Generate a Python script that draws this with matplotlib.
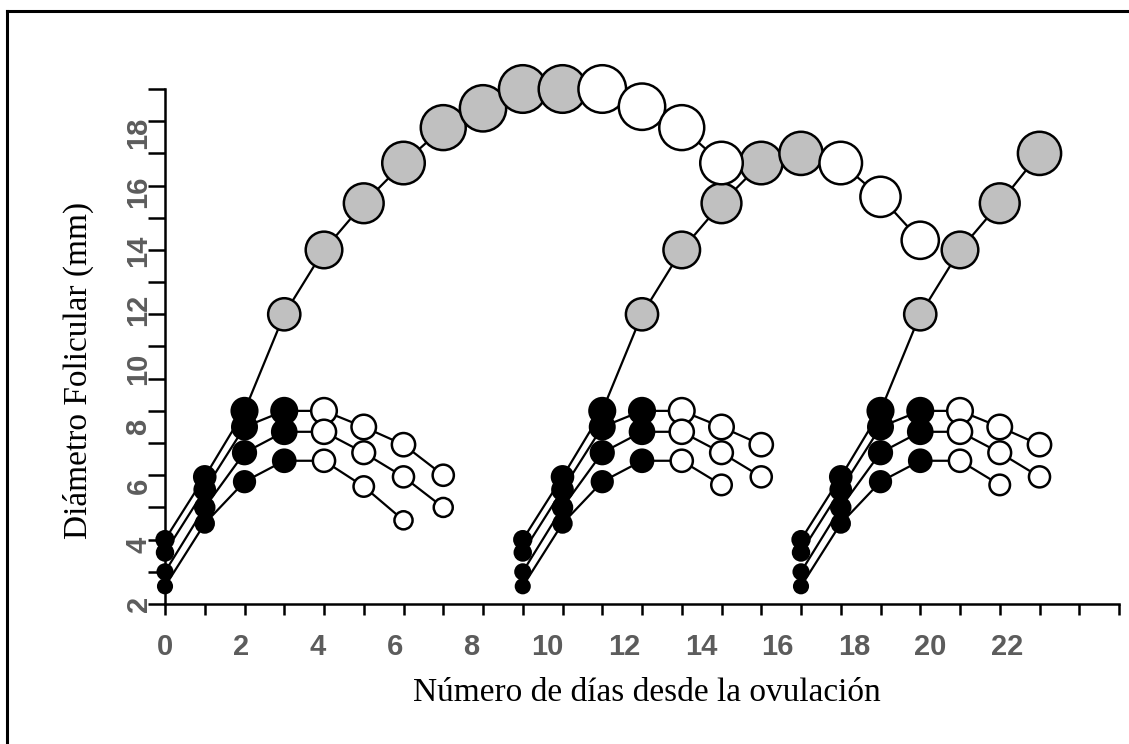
import numpy as np
import matplotlib.pyplot as plt
from matplotlib.lines import Line2D

# Follicle diameters (mm), one list per follicle.
# Each wave: one dominant follicle + three subordinates.
WAVE_STARTS = [0, 9, 16]

DOM_1 = [4.0, 5.95, 8.0, 11.0, 13.0, 14.45, 15.7, 16.8, 17.4, 18.0, 18.0, 18.0, 17.45, 16.8, 15.7]
SUB_1A = [3.6, 5.55, 7.5, 8.0, 8.0, 7.5, 6.95, 6.0]
SUB_1B = [3.0, 5.0, 6.7, 7.35, 7.35, 6.7, 5.95, 5.0]
SUB_1C = [2.55, 4.5, 5.8, 6.45, 6.45, 5.65, 4.6]

DOM_2 = [4.0, 5.95, 8.0, 11.0, 13.0, 14.45, 15.7, 16.0, 15.7, 14.65, 13.3]
SUB_2A = [3.6, 5.55, 7.5, 8.0, 8.0, 7.5, 6.95]
SUB_2B = [3.0, 5.0, 6.7, 7.35, 7.35, 6.7, 5.95]
SUB_2C = [2.55, 4.5, 5.8, 6.45, 6.45, 5.7]

DOM_3 = [4.0, 5.95, 8.0, 11.0, 13.0, 14.45, 16.0]
SUB_3A = [3.6, 5.55, 7.5, 8.0, 8.0, 7.5, 6.95]
SUB_3B = [3.0, 5.0, 6.7, 7.35, 7.35, 6.7, 5.95]
SUB_3C = [2.55, 4.5, 5.8, 6.45, 6.45, 5.7]

# how many points are black (growing) and grey (dominant) before they turn white
DOM_PHASES = [(3, 8), (3, 5), (3, 4)]
SUB_PHASES = (4, 0)

X_TICK_LABELS = list(range(0, 23, 2))
Y_TICK_LABELS = list(range(2, 19, 2))

# (start day, values, n_black, n_grey); dominant of wave 1 drawn last so it sits on top
follicles = []
for start, subs in zip(WAVE_STARTS, [(SUB_1A, SUB_1B, SUB_1C), (SUB_2A, SUB_2B, SUB_2C), (SUB_3A, SUB_3B, SUB_3C)]):
    for s in subs:
        follicles.append((start, s, SUB_PHASES[0], SUB_PHASES[1]))
follicles.append((WAVE_STARTS[2], DOM_3) + DOM_PHASES[2])
follicles.append((WAVE_STARTS[1], DOM_2) + DOM_PHASES[1])
follicles.append((WAVE_STARTS[0], DOM_1) + DOM_PHASES[0])

W, H = 1129, 744
fig = plt.figure(figsize=(W / 100, H / 100), dpi=100)
ax = fig.add_axes([165 / W, 1 - 604 / H, (1119 - 165) / W, (604 - 89) / H])

# connecting lines first
for start, vals, nb, ng in follicles:
    days = np.arange(start, start + len(vals))
    ax.plot(days, vals, color='black', lw=1.6, zorder=2, clip_on=False)

# then the circles, size grows with diameter
for start, vals, nb, ng in follicles:
    days = np.arange(start, start + len(vals))
    vals = np.array(vals)
    colors = ['black'] * nb + ['#c0c0c0'] * ng + ['white'] * (len(vals) - nb - ng)
    diam_px = 13.5 + 2.2 * (vals - 2.5)
    ax.scatter(days, vals, s=(diam_px * 0.72) ** 2, c=colors, edgecolors='black',
               linewidths=1.8, zorder=3, clip_on=False)

ax.set_xlim(0, 24)
ax.set_ylim(2, 18)

for side in ['top', 'right']:
    ax.spines[side].set_visible(False)
for side in ['left', 'bottom']:
    ax.spines[side].set_linewidth(1.8)

# tick marks every unit, labels drawn where the picture has them
ax.xaxis.remove_overlapping_locs = False
ax.yaxis.remove_overlapping_locs = False
ax.set_xticks(np.arange(0, 25), minor=True)
ax.set_yticks(np.arange(2, 19), minor=True)
ax.set_xticks([v * 0.963 for v in X_TICK_LABELS])
ax.set_xticklabels([str(v) for v in X_TICK_LABELS])
ax.set_yticks([2 + (v - 2) * 0.915 for v in Y_TICK_LABELS])
ax.set_yticklabels([str(v) for v in Y_TICK_LABELS], rotation=90, va='center')

ax.tick_params(axis='x', which='minor', length=8, width=1.8, direction='out')
ax.tick_params(axis='y', which='minor', length=12, width=1.8, direction='out')
ax.tick_params(axis='both', which='major', length=0, labelcolor='#5c5c5c')
ax.tick_params(axis='x', which='major', pad=21)
ax.tick_params(axis='y', which='major', pad=9)
for lab in ax.get_xticklabels() + ax.get_yticklabels():
    lab.set_fontfamily('Liberation Sans')
    lab.set_fontweight('bold')
    lab.set_fontsize(21)

fig.text(647 / W, 1 - 701 / H, 'Número de días desde la ovulación', ha='center', va='baseline',
         fontsize=24, family='Liberation Serif')
fig.text(78 / W, 1 - 370 / H, 'Diámetro Folicular (mm)', ha='center', va='center', rotation=90,
         fontsize=24, family='Liberation Serif')

# frame around the picture (only left and top edges are visible)
fig.add_artist(Line2D([7 / W, 7 / W], [0, 1 - 11 / H], transform=fig.transFigure, color='black', lw=2.2))
fig.add_artist(Line2D([7 / W, 1], [1 - 11 / H, 1 - 11 / H], transform=fig.transFigure, color='black', lw=2.2))

fig.savefig('out.png', dpi=100)
